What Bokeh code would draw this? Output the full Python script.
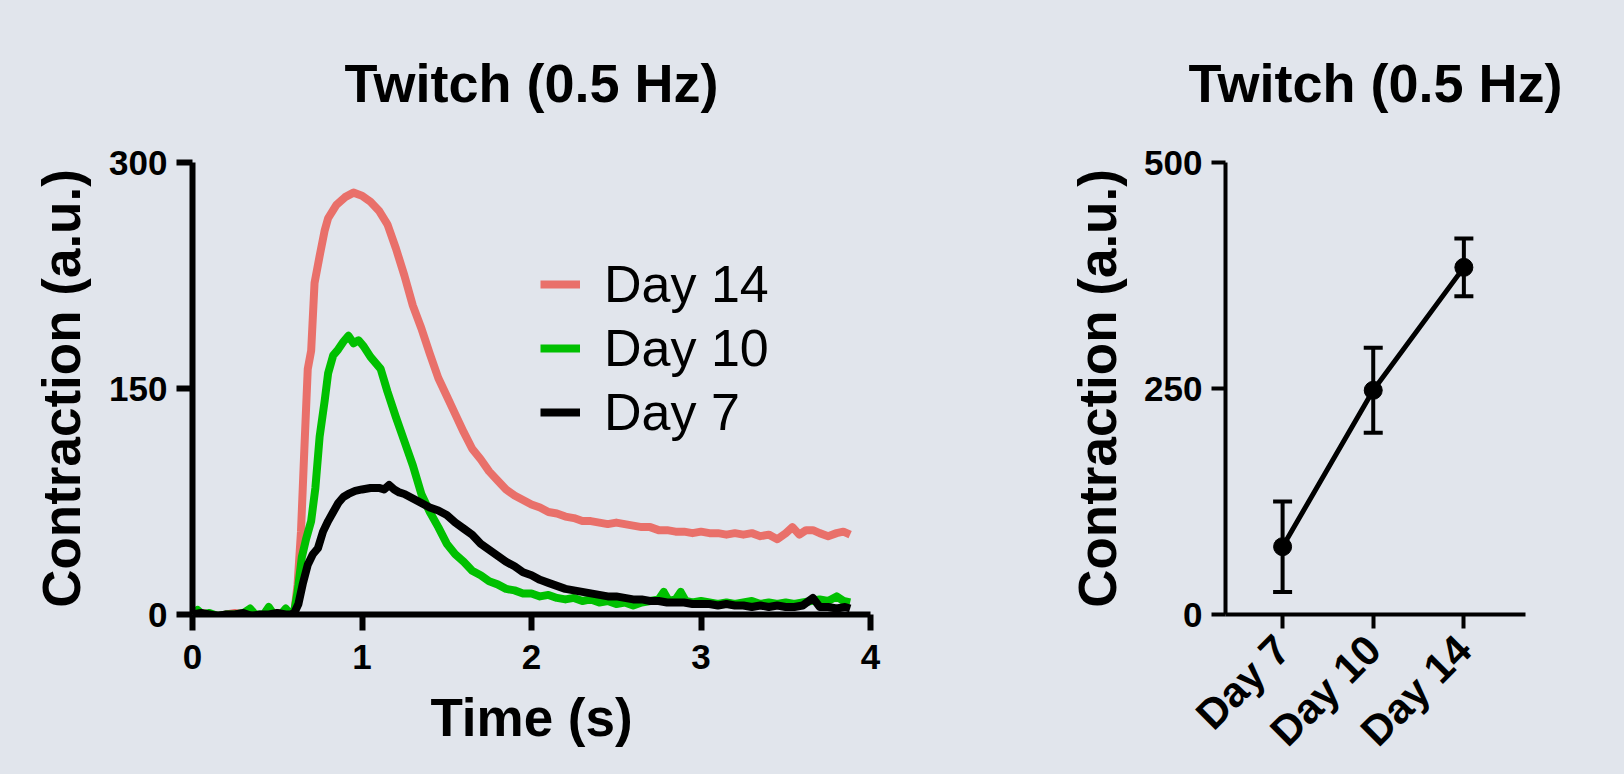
from math import pi
from bokeh.plotting import figure
from bokeh.layouts import row
from bokeh.models import (Range1d, FixedTicker, Legend, LegendItem, Whisker,
                          TeeHead, ColumnDataSource, GlobalInlineStyleSheet)
from bokeh.embed import file_html
from bokeh.resources import INLINE

BG = "#E1E5EC"
FONT = "Liberation Sans"

# ---------------- data: left panel (time traces) ----------------
t_day14 = [0.00, 0.05, 0.10, 0.15, 0.20, 0.25, 0.30, 0.35, 0.40, 0.45, 0.50, 0.55, 0.60,
           0.62, 0.64, 0.66, 0.68, 0.70, 0.72, 0.75, 0.78, 0.80, 0.85, 0.90, 0.95, 1.00,
           1.05, 1.10, 1.15, 1.20, 1.25, 1.30, 1.35, 1.40, 1.45, 1.50, 1.55, 1.60, 1.65,
           1.70, 1.75, 1.80, 1.85, 1.90, 1.95, 2.00, 2.05, 2.10, 2.15, 2.20, 2.25, 2.30,
           2.35, 2.40, 2.45, 2.50, 2.55, 2.60, 2.65, 2.70, 2.75, 2.80, 2.85, 2.90, 2.95,
           3.00, 3.05, 3.10, 3.15, 3.20, 3.25, 3.30, 3.35, 3.40, 3.45, 3.50, 3.54, 3.58,
           3.62, 3.66, 3.70, 3.75, 3.80, 3.84, 3.88]
v_day14 = [0, 1, 0, -1, 0, 1, 0, 0, -1, 0, 1, 0, 1,
           20, 55, 110, 163, 175, 220, 238, 255, 263, 272, 277, 280, 278,
           274, 268, 259, 243, 225, 205, 190, 173, 157, 145, 133, 121, 110,
           103, 95, 89, 83, 79, 76, 73, 71, 68, 67, 65, 64, 62,
           62, 61, 60, 61, 60, 59, 58, 58, 56, 56, 55, 55, 54,
           55, 54, 54, 53, 54, 53, 54, 52, 53, 50, 54, 58, 53,
           56, 56, 54, 52, 54, 55, 53]

t_day10 = [0.00, 0.03, 0.06, 0.10, 0.15, 0.20, 0.25, 0.30, 0.34, 0.37, 0.42, 0.45, 0.48,
           0.52, 0.55, 0.58, 0.60, 0.62, 0.645, 0.67, 0.70, 0.725, 0.75, 0.78, 0.80, 0.83,
           0.86, 0.89, 0.92, 0.95, 0.98, 1.01, 1.05, 1.08, 1.11, 1.15, 1.20, 1.25, 1.30,
           1.35, 1.40, 1.45, 1.50, 1.55, 1.60, 1.65, 1.70, 1.75, 1.80, 1.85, 1.90, 1.95,
           2.00, 2.05, 2.10, 2.15, 2.20, 2.25, 2.30, 2.35, 2.40, 2.45, 2.50, 2.55, 2.60,
           2.65, 2.70, 2.75, 2.78, 2.81, 2.85, 2.88, 2.91, 2.95, 3.00, 3.05, 3.10, 3.15,
           3.20, 3.25, 3.30, 3.35, 3.40, 3.45, 3.50, 3.55, 3.60, 3.65, 3.70, 3.75, 3.80,
           3.84, 3.88]
v_day10 = [0, 3, 0, 1, -1, 0, 0, 1, 4, 0, 0, 5, 0,
           0, 4, 0, 2, 15, 38, 50, 62, 84, 118, 142, 160, 172,
           176, 181, 185, 180, 182, 178, 171, 167, 163, 148, 131, 115, 99,
           80, 68, 58, 47, 40, 35, 29, 26, 22, 20, 17, 16, 14,
           14, 12, 13, 11, 10, 11, 9, 10, 8, 9, 7, 8, 6,
           8, 9, 10, 15, 9, 10, 15, 9, 8, 9, 8, 7, 8,
           7, 8, 9, 7, 8, 7, 8, 7, 8, 9, 10, 9, 12,
           9, 8]

t_day7 = [0.00, 0.05, 0.10, 0.15, 0.20, 0.25, 0.30, 0.35, 0.40, 0.45, 0.50, 0.55, 0.58,
          0.60, 0.625, 0.65, 0.68, 0.71, 0.74, 0.77, 0.80, 0.83, 0.86, 0.89, 0.92, 0.96,
          1.00, 1.05, 1.10, 1.13, 1.16, 1.19, 1.22, 1.25, 1.30, 1.35, 1.40, 1.45, 1.50,
          1.55, 1.60, 1.65, 1.70, 1.75, 1.80, 1.85, 1.90, 1.95, 2.00, 2.05, 2.10, 2.15,
          2.20, 2.25, 2.30, 2.35, 2.40, 2.45, 2.50, 2.55, 2.60, 2.65, 2.70, 2.75, 2.80,
          2.85, 2.90, 2.95, 3.00, 3.05, 3.10, 3.15, 3.20, 3.25, 3.30, 3.35, 3.40, 3.45,
          3.50, 3.55, 3.60, 3.66, 3.70, 3.75, 3.80, 3.85, 3.88]
v_day7 = [0, 1, 0, -1, 0, 0, 1, -1, 0, 0, 1, 0, 0,
          1, 7, 20, 33, 40, 44, 55, 62, 68, 74, 78, 80, 82,
          83, 84, 84, 83, 86, 83, 81, 80, 77, 74, 71, 69, 66,
          61, 57, 53, 47, 43, 39, 35, 32, 28, 26, 23, 21, 19,
          17, 16, 15, 14, 13, 12, 12, 11, 10, 10, 9, 9, 8,
          8, 8, 7, 7, 7, 6, 7, 6, 6, 5, 6, 5, 6,
          5, 5, 6, 11, 5, 5, 4, 5, 4]

x_ticks_left = [0, 1, 2, 3, 4]
y_ticks_left = [0, 150, 300]

# ---------------- data: right panel (summary) ----------------
days = ["Day 7", "Day 10", "Day 14"]
day_pos = [1, 2, 3]
mean_contraction = [75, 248, 384]
err_contraction = [50, 47, 32]
y_ticks_right = [0, 250, 500]

COL14 = "#E9706A"
COL10 = "#00C000"
COL7 = "#000000"


def style_axis(ax, lw, tick_out, tick_standoff, label_standoff, tick_size="35px"):
    ax.axis_line_width = lw
    ax.axis_line_color = "black"
    ax.major_tick_line_width = lw
    ax.major_tick_line_color = "black"
    ax.major_tick_out = tick_out
    ax.major_tick_in = 0
    ax.minor_tick_line_color = None
    ax.major_label_text_font = FONT
    ax.major_label_text_font_size = tick_size
    ax.major_label_text_font_style = "bold"
    ax.major_label_text_color = "black"
    ax.major_label_standoff = tick_standoff
    ax.axis_label_text_font = FONT
    ax.axis_label_text_font_size = "53px"
    ax.axis_label_text_font_style = "bold"
    ax.axis_label_text_color = "black"
    ax.axis_label_standoff = label_standoff


def style_title(p):
    p.title.text_font = FONT
    p.title.text_font_size = "54px"
    p.title.text_font_style = "bold"
    p.title.text_color = "black"
    p.title.align = "center"
    p.title.standoff = 99


# ---------------- left figure ----------------
p1 = figure(width=1000, height=774, output_backend="svg", toolbar_location=None,
            x_range=Range1d(0, 4), y_range=Range1d(0, 300),
            min_border_left=192, min_border_right=130, min_border_top=162,
            min_border_bottom=160,
            background_fill_color=BG, border_fill_color=BG, outline_line_color=None,
            title="Twitch (0.5 Hz)")
style_title(p1)
p1.xgrid.grid_line_color = None
p1.ygrid.grid_line_color = None
p1.xaxis.ticker = FixedTicker(ticks=x_ticks_left)
p1.yaxis.ticker = FixedTicker(ticks=y_ticks_left)
p1.xaxis.axis_label = "Time (s)"
p1.yaxis.axis_label = "Contraction (a.u.)"
style_axis(p1.xaxis[0], 6, 16, 14, 16)
style_axis(p1.yaxis[0], 6, 16, 9, 15)

r14 = p1.line(t_day14, v_day14, line_color=COL14, line_width=8, line_join="round")
r10 = p1.line(t_day10, v_day10, line_color=COL10, line_width=8, line_join="round")
r7 = p1.line(t_day7, v_day7, line_color=COL7, line_width=8, line_join="round")

legend = Legend(items=[LegendItem(label="Day 14", renderers=[r14]),
                       LegendItem(label="Day 10", renderers=[r10]),
                       LegendItem(label="Day 7", renderers=[r7])],
                location=(348, 172), orientation="vertical",
                glyph_width=40, glyph_height=40, label_standoff=24,
                label_text_font=FONT, label_text_font_size="52px",
                label_text_color="black",
                padding=0, margin=0, spacing=4,
                border_line_color=None, background_fill_alpha=0)
p1.add_layout(legend)

# ---------------- right figure ----------------
p2 = figure(width=624, height=774, output_backend="svg", toolbar_location=None,
            x_range=Range1d(0.37, 3.68), y_range=Range1d(0, 500),
            min_border_left=225, min_border_right=99, min_border_top=162,
            min_border_bottom=160,
            background_fill_color=BG, border_fill_color=BG, outline_line_color=None,
            title="Twitch (0.5 Hz)")
style_title(p2)
p2.xgrid.grid_line_color = None
p2.ygrid.grid_line_color = None
p2.xaxis.ticker = FixedTicker(ticks=day_pos)
p2.xaxis.major_label_overrides = {pos: lab for pos, lab in zip(day_pos, days)}
p2.yaxis.ticker = FixedTicker(ticks=y_ticks_right)
p2.yaxis.axis_label = "Contraction (a.u.)"
style_axis(p2.xaxis[0], 4, 14, 14, 10, tick_size="42px")
style_axis(p2.yaxis[0], 4, 14, 9, 14)
p2.xaxis.major_label_orientation = pi / 4

src = ColumnDataSource(data=dict(
    x=day_pos, y=mean_contraction,
    upper=[m + e for m, e in zip(mean_contraction, err_contraction)],
    lower=[m - e for m, e in zip(mean_contraction, err_contraction)]))

whisk = Whisker(base="x", upper="upper", lower="lower", source=src,
                line_width=4, line_color="black",
                upper_head=TeeHead(size=19, line_width=4, line_color="black"),
                lower_head=TeeHead(size=19, line_width=4, line_color="black"))
p2.add_layout(whisk)
p2.line("x", "y", source=src, line_width=5, line_color="black")
p2.scatter("x", "y", source=src, size=18, fill_color="black", line_color="black")

layout = row(p1, p2)
layout.stylesheets = [GlobalInlineStyleSheet(
    css="html, body { margin: 0; padding: 0; overflow: hidden; background: #E1E5EC; }")]

open("out.html", "w").write(file_html(layout, INLINE))
